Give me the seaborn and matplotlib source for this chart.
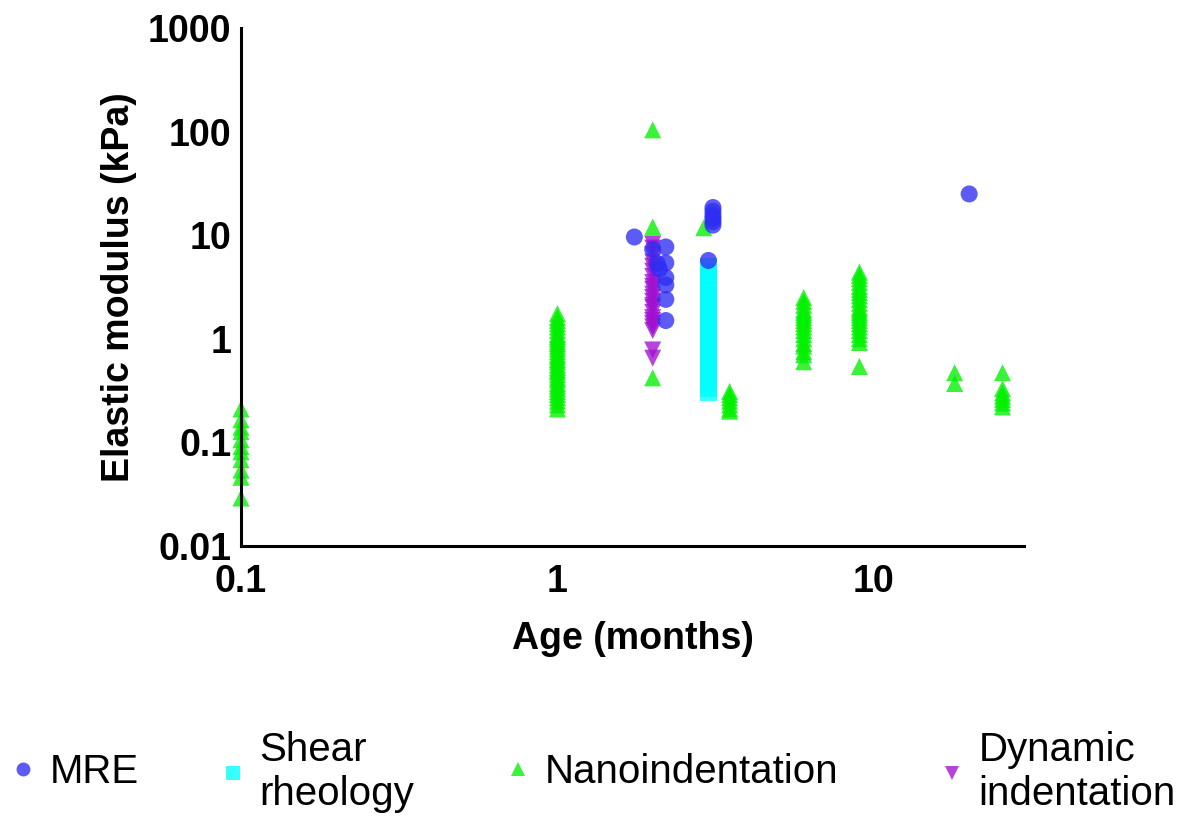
import numpy as np
import pandas as pd
import matplotlib
matplotlib.use("Agg")
import matplotlib.pyplot as plt
import seaborn as sns
from matplotlib.lines import Line2D
from matplotlib.ticker import FixedLocator, FixedFormatter, NullLocator

# ---------------- data ----------------
mre_age = [1.75, 2.0, 2.2, 2.07, 2.1, 2.2, 2.2, 2.2, 2.2, 2.2,
           3.1, 3.1, 3.1, 3.1, 3.1, 3.1, 3.0, 20.0]
mre_mod = [9.6, 7.3, 7.7, 5.3, 4.7, 5.4, 3.9, 3.3, 2.4, 1.5,
           18.5, 17.0, 15.5, 14.5, 13.5, 12.5, 5.7, 25.0]

shear_age = [3.0] * 26
shear_mod = [5.0, 4.5, 4.0, 3.5, 3.0, 2.7, 2.4, 2.1, 1.9, 1.7, 1.5, 1.3, 1.2,
             1.1, 1.0, 0.9, 0.8, 0.72, 0.65, 0.58, 0.52, 0.46, 0.41, 0.37, 0.33, 0.30]

nano_age_01 = [0.1] * 11
nano_mod_01 = [0.21, 0.165, 0.14, 0.127, 0.106, 0.091, 0.081, 0.068, 0.054, 0.046, 0.029]
nano_age_1 = [1.0] * 34
nano_mod_1 = [0.21, 0.23, 0.25, 0.27, 0.29, 0.31, 0.33, 0.35, 0.37, 0.40, 0.42, 0.45,
              0.48, 0.50, 0.53, 0.56, 0.60, 0.63, 0.67, 0.70, 0.75, 0.80, 0.85, 0.90,
              0.95, 1.00, 1.05, 1.10, 1.20, 1.30, 1.40, 1.50, 1.60, 1.75]
nano_age_2 = [2.0, 2.0, 2.0, 2.9]
nano_mod_2 = [104.0, 12.0, 0.42, 11.8]
nano_age_35 = [3.5] * 7
nano_mod_35 = [0.31, 0.29, 0.27, 0.25, 0.23, 0.21, 0.20]
nano_age_6 = [6.0] * 18
nano_mod_6 = [2.5, 2.3, 2.1, 1.9, 1.8, 1.7, 1.6, 1.5, 1.4, 1.3, 1.2, 1.1, 1.0, 0.9,
              0.85, 0.75, 0.7, 0.6]
nano_age_9 = [9.0] * 23
nano_mod_9 = [4.4, 4.1, 3.8, 3.5, 3.2, 3.0, 2.8, 2.6, 2.4, 2.2, 2.0, 1.9, 1.8, 1.7,
              1.6, 1.5, 1.4, 1.3, 1.2, 1.1, 1.0, 0.92, 0.54]
nano_age_late = [18.0, 18.0, 25.5, 25.5, 25.5, 25.5, 25.5, 25.5, 25.5]
nano_mod_late = [0.47, 0.37, 0.47, 0.33, 0.30, 0.28, 0.26, 0.24, 0.22]

dyn_age = [2.0] * 23
dyn_mod = [8.2, 7.5, 6.5, 5.5, 5.0, 4.5, 4.0, 3.5, 3.2, 3.0, 2.7, 2.5, 2.3, 2.1,
           2.0, 1.8, 1.6, 1.5, 1.4, 1.3, 1.2, 0.78, 0.65]

methods = ["MRE", "Shear rheology", "Nanoindentation", "Dynamic indentation"]
legend_labels = ["MRE", "Shear\nrheology", "Nanoindentation", "Dynamic\nindentation"]
colors = {"MRE": "#2E2EF2", "Shear rheology": "#00FFFF",
          "Nanoindentation": "#00F000", "Dynamic indentation": "#A010D0"}
markers = {"MRE": "o", "Shear rheology": "s",
           "Nanoindentation": "^", "Dynamic indentation": "v"}

xticks = [0.1, 1, 10]
xticklabels = ["0.1", "1", "10"]
yticks = [0.01, 0.1, 1, 10, 100, 1000]
yticklabels = ["0.01", "0.1", "1", "10", "100", "1000"]

nano_age = nano_age_01 + nano_age_1 + nano_age_2 + nano_age_35 + nano_age_6 + nano_age_9 + nano_age_late
nano_mod = nano_mod_01 + nano_mod_1 + nano_mod_2 + nano_mod_35 + nano_mod_6 + nano_mod_9 + nano_mod_late

df = pd.concat([
    pd.DataFrame({"age": nano_age, "mod": nano_mod, "method": "Nanoindentation"}),
    pd.DataFrame({"age": shear_age, "mod": shear_mod, "method": "Shear rheology"}),
    pd.DataFrame({"age": dyn_age, "mod": dyn_mod, "method": "Dynamic indentation"}),
    pd.DataFrame({"age": mre_age, "mod": mre_mod, "method": "MRE"}),
], ignore_index=True)

# ---------------- plot ----------------
sns.set_style("white")
plt.rcParams["font.family"] = ["Liberation Sans", "DejaVu Sans"]
plt.rcParams["text.color"] = "black"
plt.rcParams["axes.labelcolor"] = "black"
plt.rcParams["xtick.color"] = "black"
plt.rcParams["ytick.color"] = "black"

fig = plt.figure(figsize=(11.89, 8.21), dpi=100)
ax = fig.add_axes([0.2027, 0.335, 0.8612 - 0.2027, 0.9659 - 0.335])

sns.scatterplot(data=df, x="age", y="mod", hue="method", style="method",
                palette=colors, markers=markers, s=150, alpha=0.78,
                linewidth=0, edgecolor="none", legend=False, ax=ax,
                clip_on=False, zorder=1.5)

ax.set_xscale("log")
ax.set_yscale("log")
ax.set_xlim(0.1, 29.8)
ax.set_ylim(0.01, 1000)

ax.xaxis.set_major_locator(FixedLocator(xticks))
ax.xaxis.set_major_formatter(FixedFormatter(xticklabels))
ax.yaxis.set_major_locator(FixedLocator(yticks))
ax.yaxis.set_major_formatter(FixedFormatter(yticklabels))
ax.xaxis.set_minor_locator(NullLocator())
ax.yaxis.set_minor_locator(NullLocator())

for side in ["top", "right"]:
    ax.spines[side].set_visible(False)
for side in ["left", "bottom"]:
    ax.spines[side].set_linewidth(2.2)
    ax.spines[side].set_color("black")
    ax.spines[side].set_zorder(2.5)

ax.tick_params(axis="both", which="major", direction="out", length=6, width=2.2,
               color="black", labelcolor="black", labelsize=27)
ax.tick_params(axis="y", pad=1)
ax.tick_params(axis="x", pad=7)
for lab in ax.get_xticklabels() + ax.get_yticklabels():
    lab.set_fontweight("bold")

ax.set_xlabel("Age (months)", fontsize=27, fontweight="bold", labelpad=15, color="black")
ax.set_ylabel("Elastic modulus (kPa)", fontsize=27, fontweight="bold", labelpad=8, color="black")
ax.set_facecolor("white")
ax.grid(False)

# legend: one entry per block, placed like the reference
legend_x = [11 / 1189, 221 / 1189, 506 / 1189, 940 / 1189]
legend_y = 1 - 772 / 821
for m, lab, lx in zip(methods, legend_labels, legend_x):
    h = Line2D([0], [0], marker=markers[m], linestyle="none", markersize=10,
               markerfacecolor=colors[m], markeredgewidth=0, alpha=0.78)
    fig.legend([h], [lab], loc="center left", bbox_to_anchor=(lx, legend_y),
               frameon=False, fontsize=29, handlelength=0.6, handletextpad=0.35,
               borderpad=0, borderaxespad=0, labelspacing=0.05, labelcolor="black")

fig.savefig("out.png", dpi=100, facecolor="white")
